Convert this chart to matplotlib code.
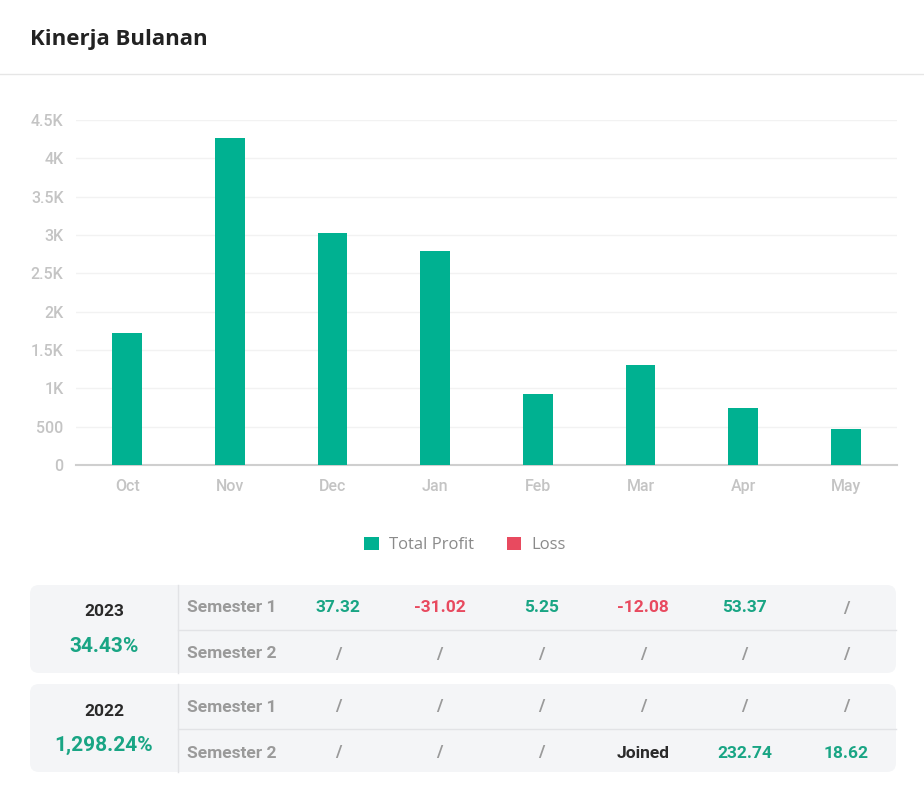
import matplotlib
matplotlib.use("Agg")
import matplotlib.pyplot as plt
from matplotlib.patches import FancyBboxPatch, Patch
from matplotlib.ticker import FuncFormatter, MultipleLocator

# ---------------- data ----------------
months = ["Oct", "Nov", "Dec", "Jan", "Feb", "Mar", "Apr", "May"]
total_profit = [1720, 4260, 3030, 2790, 920, 1310, 740, 470]
series_names = ["Total Profit", "Loss"]

years = ["2023", "2022"]
year_returns = ["34.43%", "1,298.24%"]
semester_labels = ["Semester 1", "Semester 2"]
values_2023 = [["37.32", "-31.02", "5.25", "-12.08", "53.37", "/"],
               ["/", "/", "/", "/", "/", "/"]]
values_2022 = [["/", "/", "/", "/", "/", "/"],
               ["/", "/", "/", "Joined", "232.74", "18.62"]]
table_values = [values_2023, values_2022]

# ---------------- style ----------------
GREEN = "#00b191"
GREEN_TXT = "#19a584"
RED = "#e84a5f"
GRAY_TICK = "#c4c4c4"
FONT = ["Roboto", "DejaVu Sans"]

W, H = 924, 794
fig = plt.figure(figsize=(W / 100, H / 100), dpi=100)
fig.patch.set_facecolor("white")

# ---------------- bar chart ----------------
ax = fig.add_axes([76 / W, 1 - 465 / H, 821 / W, 345 / H])
x = range(len(months))
ax.bar(x, total_profit, width=0.29, color=GREEN, zorder=3)
ax.set_xlim(-0.5, len(months) - 0.5)
ax.set_ylim(0, 4500)
ax.yaxis.set_major_locator(MultipleLocator(500))
ax.yaxis.set_major_formatter(FuncFormatter(
    lambda v, p: "0" if v == 0 else (f"{v/1000:g}K" if v >= 1000 else f"{v:g}")))
ax.set_xticks(list(x))
ax.set_xticklabels(months)
ax.grid(axis="y", color="#f2f2f2", linewidth=1, zorder=0)
for s in ["top", "right", "left"]:
    ax.spines[s].set_visible(False)
ax.spines["bottom"].set_color("#cfcfcf")
ax.spines["bottom"].set_linewidth(1.5)
ax.tick_params(axis="both", length=0, colors=GRAY_TICK, labelsize=11.5)
ax.tick_params(axis="y", pad=9)
ax.tick_params(axis="x", pad=10)
for lab in ax.get_xticklabels() + ax.get_yticklabels():
    lab.set_family(FONT)
    lab.set_fontweight("medium")

# legend
handles = [Patch(facecolor=GREEN, edgecolor="none"), Patch(facecolor=RED, edgecolor="none")]
fig.legend(handles, series_names, loc="center", bbox_to_anchor=(465 / W, 1 - 545 / H),
           ncol=2, frameon=False, labelcolor="#8a8a8a",
           handlelength=0.85, handleheight=0.85, handletextpad=0.6, columnspacing=2.0,
           prop={"family": ["Open Sans", "DejaVu Sans"], "size": 12})

# ---------------- overlay (title + table) ----------------
ov = fig.add_axes([0, 0, 1, 1])
ov.set_xlim(0, W)
ov.set_ylim(H, 0)
ov.axis("off")
ov.patch.set_visible(False)

ov.text(30, 39, "Kinerja Bulanan", fontsize=16, fontweight="bold", color="#222222",
        ha="left", va="center", family=["Open Sans", "DejaVu Sans"])
ov.plot([0, W], [74, 74], color="#e6e6e6", lw=1)

box_tops = [585, 684]
box_h = 88
x0, x1 = 30, 896
xdiv = 178
col_x0, col_dx = 338, 101.7


def val_color(v):
    if v == "/":
        return "#9a9a9a"
    if v == "Joined":
        return "#2a2a2a"
    if v.startswith("-"):
        return RED
    return GREEN_TXT


for bi, top in enumerate(box_tops):
    ov.add_patch(FancyBboxPatch((x0, top), x1 - x0, box_h,
                                boxstyle="round,pad=0,rounding_size=9",
                                facecolor="#f4f5f7", edgecolor="none"))
    ov.plot([xdiv, xdiv], [top, top + box_h], color="#e2e3e6", lw=1)
    ov.plot([xdiv, x1], [top + 45, top + 45], color="#e2e3e6", lw=1)
    ov.text(104, top + 27, years[bi], fontsize=12.5, fontweight="bold", color="#2a2a2a",
            ha="center", va="center", family=FONT)
    ov.text(104, top + 61, year_returns[bi], fontsize=15, fontweight="bold", color=GREEN_TXT,
            ha="center", va="center", family=FONT)
    for ri, sem in enumerate(semester_labels):
        ry = top + 23 + ri * 46
        ov.text(232, ry, sem, fontsize=12.5, fontweight="bold", color="#9a9a9a",
                ha="center", va="center", family=FONT)
        for ci, v in enumerate(table_values[bi][ri]):
            ov.text(col_x0 + ci * col_dx, ry, v, fontsize=12.5, fontweight="bold",
                    color=val_color(v), ha="center", va="center", family=FONT)

fig.savefig("out.png", dpi=100, facecolor="white")
